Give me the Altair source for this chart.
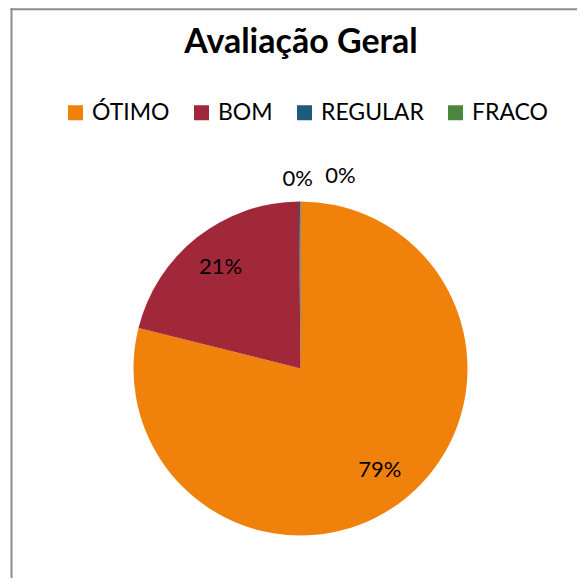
import math
import altair as alt
import pandas as pd

categorias = ["ÓTIMO", "BOM", "REGULAR", "FRACO"]
percentuais = [78.9, 20.95, 0.15, 0.0]
cores = ["#F0820C", "#A02838", "#1E5A7E", "#4C8740"]
titulo = "Avaliação Geral"

df = pd.DataFrame({"categoria": categorias, "valor": percentuais, "ordem": list(range(len(categorias)))})

W, H = 569, 570
CX, CY = 292.5, 360.5
R = 167

base = (
    alt.Chart(df)
    .transform_window(cum="sum(valor)", sort=[alt.SortField("ordem")], frame=[None, 0])
    .transform_joinaggregate(total="sum(valor)")
    .transform_calculate(
        ini="(datum.cum - datum.valor) / datum.total",
        fim="datum.cum / datum.total",
        meio="(datum.cum - datum.valor / 2) / datum.total",
        rotulo="format(datum.valor / datum.total, '.0%')",
    )
)

theta_scale = alt.Scale(domain=[0, 1], range=[0, 2 * math.pi])

arcs = base.mark_arc(radius=R).encode(
    theta=alt.Theta("ini:Q", scale=theta_scale),
    theta2="fim:Q",
    color=alt.Color(
        "categoria:N",
        scale=alt.Scale(domain=categorias, range=cores),
        legend=alt.Legend(
            orient="none",
            direction="horizontal",
            columns=4,
            legendX=56,
            legendY=93,
            title=None,
            symbolType="square",
            symbolSize=225,
            symbolStrokeWidth=0,
            labelFont="Lato",
            labelFontSize=23,
            labelColor="black",
            labelOffset=5,
            columnPadding=20,
        ),
    ),
    x=alt.value(CX),
    y=alt.value(CY),
)

txt_style = dict(font="Lato", fontSize=22, color="black", baseline="middle", align="center")

inside = base.transform_filter("datum.ordem < 2").mark_text(radius=129, **txt_style).encode(
    theta=alt.Theta("meio:Q", scale=theta_scale), text="rotulo:N", x=alt.value(CX), y=alt.value(CY)
)
lab_reg = base.transform_filter("datum.ordem == 2").mark_text(radius=190, dx=-2, **txt_style).encode(
    theta=alt.Theta("meio:Q", scale=theta_scale), text="rotulo:N", x=alt.value(CX), y=alt.value(CY)
)
lab_fra = base.transform_filter("datum.ordem == 3").mark_text(radius=193, dx=40, **txt_style).encode(
    theta=alt.Theta("meio:Q", scale=theta_scale), text="rotulo:N", x=alt.value(CX), y=alt.value(CY)
)

frame_df = pd.DataFrame({"k": [0]})
left_border = alt.Chart(frame_df).mark_rule(color="#8C8C8C", strokeWidth=2).encode(
    x=alt.value(3.5), y=alt.value(0.3), y2=alt.value(H)
)
top_border = alt.Chart(frame_df).mark_rule(color="#8C8C8C", strokeWidth=2).encode(
    x=alt.value(2.5), x2=alt.value(W), y=alt.value(1.3)
)

chart = (
    alt.layer(left_border, top_border, arcs, inside, lab_reg, lab_fra)
    .properties(
        width=W,
        height=H,
        padding=0,
        autosize=alt.AutoSizeParams(type="none"),
        title=alt.Title(
            titulo,
            font="Lato",
            fontSize=34,
            fontWeight="bold",
            color="black",
            anchor="middle",
            offset=0,
            baseline="alphabetic",
            dx=8.5,
            dy=80,
        ),
    )
    .configure_view(stroke="transparent")
)

chart.save("out.html", embed_options={"renderer": "svg", "actions": False})
